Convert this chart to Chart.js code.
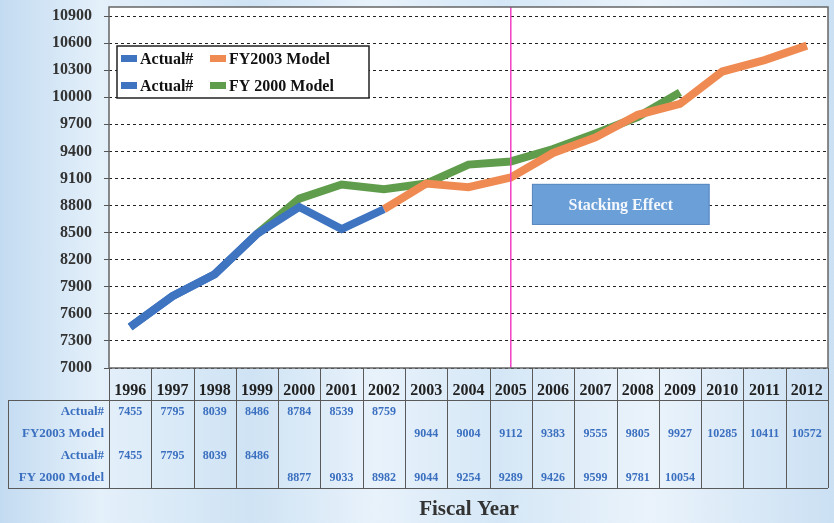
<!DOCTYPE html>
<html>
<head>
<meta charset="utf-8">
<script src="https://cdn.jsdelivr.net/npm/chart.js@4"></script>
<style>
  html, body { margin: 0; padding: 0; }
  body {
    width: 834px; height: 523px; overflow: hidden;
    background: linear-gradient(90deg, #c3dbf1 0%, #e4f0fa 12%, #cfe3f4 30%, #e8f2fb 45%, #d5e7f6 60%, #eaf3fb 78%, #cbe0f3 100%);
  }
  canvas { display: block; }
</style>
</head>
<body>
<canvas id="chart" width="834" height="523"></canvas>
<script>
"use strict";

// Fiscal years (x categories)
const years = ["1996", "1997", "1998", "1999", "2000", "2001", "2002", "2003", "2004",
               "2005", "2006", "2007", "2008", "2009", "2010", "2011", "2012"];

// Series as shown in the data table
const actualA = [7455, 7795, 8039, 8486, 8784, 8539, 8759, null, null, null, null, null, null, null, null, null, null];
const fy2003 = [null, null, null, null, null, null, null, 9044, 9004, 9112, 9383, 9555, 9805, 9927, 10285, 10411, 10572];
const actualB = [7455, 7795, 8039, 8486, null, null, null, null, null, null, null, null, null, null, null, null, null];
const fy2000 = [null, null, null, null, 8877, 9033, 8982, 9044, 9254, 9289, 9426, 9599, 9781, 10054, null, null, null];

const seriesNames = ["Actual#", "FY2003 Model", "Actual#", "FY 2000 Model"];
const seriesColors = ["#3f74c1", "#ef8b52", "#3f74c1", "#5f9d4c"];

// y axis ticks
const yMin = 7000;
const yMax = 10900;
const yStep = 300;

// the model lines start from the last actual point
const fy2003Line = fy2003.slice();
fy2003Line[6] = actualA[6];
const fy2000Line = fy2000.slice();
fy2000Line[3] = actualB[3];

const tableRows = [actualA, fy2003, actualB, fy2000];
const serif = "'Liberation Serif', 'DejaVu Serif', serif";

const extrasPlugin = {
    id: "extras",
    beforeDraw(chart) {
        const ctx = chart.ctx;
        const a = chart.chartArea;
        ctx.save();
        ctx.fillStyle = "#ffffff";
        ctx.fillRect(a.left, a.top, a.right - a.left, a.bottom - a.top);
        ctx.restore();
    },
    afterDatasetsDraw(chart) {
        const ctx = chart.ctx;
        const a = chart.chartArea;
        const x = chart.scales.x;
        const y = chart.scales.y;
        ctx.save();

        // 2005 marker line
        const xm = x.getPixelForValue(9);
        ctx.strokeStyle = "#f23fc4";
        ctx.lineWidth = 1.5;
        ctx.beginPath();
        ctx.moveTo(xm, a.top);
        ctx.lineTo(xm, a.bottom);
        ctx.stroke();

        // Stacking Effect box
        const bx1 = x.getPixelForValue(9.5);
        const bx2 = x.getPixelForValue(13.7);
        const by1 = y.getPixelForValue(9040);
        const by2 = y.getPixelForValue(8585);
        ctx.fillStyle = "#6b9fd8";
        ctx.fillRect(bx1, by1, bx2 - bx1, by2 - by1);
        ctx.strokeStyle = "#5a88bf";
        ctx.lineWidth = 1;
        ctx.strokeRect(bx1 + 0.5, by1 + 0.5, bx2 - bx1 - 1, by2 - by1 - 1);
        ctx.fillStyle = "#f4f8fc";
        ctx.font = "bold 16px " + serif;
        ctx.textAlign = "center";
        ctx.textBaseline = "middle";
        ctx.fillText("Stacking Effect", (bx1 + bx2) / 2, (by1 + by2) / 2 + 1);

        // plot border
        ctx.strokeStyle = "#666666";
        ctx.lineWidth = 1.5;
        ctx.strokeRect(a.left, a.top, a.right - a.left, a.bottom - a.top);

        // legend
        const lx = 117, ly = 46, lw = 252, lh = 52;
        ctx.fillStyle = "#ffffff";
        ctx.fillRect(lx, ly, lw, lh);
        ctx.strokeStyle = "#222222";
        ctx.lineWidth = 1.5;
        ctx.strokeRect(lx, ly, lw, lh);
        ctx.font = "bold 16px " + serif;
        ctx.textAlign = "left";
        ctx.textBaseline = "middle";
        const cols = [121, 210];
        const rowsY = [59, 86];
        chart.data.datasets.forEach((ds, i) => {
            const cx = cols[i % 2];
            const cy = rowsY[Math.floor(i / 2)];
            ctx.fillStyle = ds.borderColor;
            ctx.fillRect(cx, cy - 4, 16, 7);
            ctx.fillStyle = "#111111";
            ctx.fillText(ds.label, cx + 19, cy + 1);
        });
        ctx.restore();
    },
    afterDraw(chart) {
        const ctx = chart.ctx;
        const a = chart.chartArea;
        const x = chart.scales.x;
        ctx.save();

        const tableLeft = 8;
        const headBottom = 400;
        const rowH = 22;
        const tableBottom = headBottom + rowH * 4;

        ctx.strokeStyle = "#5a5a5a";
        ctx.lineWidth = 1;

        // column separators
        const edges = [a.left];
        for (let i = 1; i < years.length; i++) {
            edges.push((x.getPixelForValue(i - 1) + x.getPixelForValue(i)) / 2);
        }
        edges.push(a.right);
        edges.forEach(ex => {
            ctx.beginPath();
            ctx.moveTo(Math.round(ex) + 0.5, a.bottom);
            ctx.lineTo(Math.round(ex) + 0.5, tableBottom);
            ctx.stroke();
        });

        ctx.beginPath();
        ctx.moveTo(tableLeft, headBottom + 0.5);
        ctx.lineTo(a.right, headBottom + 0.5);
        ctx.moveTo(tableLeft, tableBottom + 0.5);
        ctx.lineTo(a.right, tableBottom + 0.5);
        ctx.moveTo(tableLeft + 0.5, headBottom);
        ctx.lineTo(tableLeft + 0.5, tableBottom);
        ctx.stroke();

        // row labels and values
        tableRows.forEach((row, r) => {
            const cy = headBottom + rowH * r + rowH / 2 + 1;
            ctx.fillStyle = "#3b6fbf";
            ctx.font = "bold 13px " + serif;
            ctx.textAlign = "right";
            ctx.textBaseline = "middle";
            ctx.fillText(seriesNames[r], a.left - 5, cy);
            ctx.font = "bold 12px " + serif;
            ctx.textAlign = "center";
            row.forEach((v, i) => {
                if (v === null) return;
                ctx.fillText(String(v), x.getPixelForValue(i), cy);
            });
        });

        // axis title
        ctx.fillStyle = "#333333";
        ctx.font = "bold 21px " + serif;
        ctx.textAlign = "center";
        ctx.textBaseline = "middle";
        ctx.fillText("Fiscal Year", 469, 510);
        ctx.restore();
    }
};

function makeSet(i, values) {
    return {
        label: seriesNames[i],
        data: values,
        borderColor: seriesColors[i],
        backgroundColor: seriesColors[i],
        borderWidth: 8,
        pointRadius: 0,
        pointHoverRadius: 0,
        tension: 0,
        fill: false,
        spanGaps: false
    };
}

new Chart("chart", {
    type: "line",
    data: {
        labels: years,
        datasets: [
            makeSet(0, actualA),
            makeSet(1, fy2003Line),
            makeSet(2, actualB),
            makeSet(3, fy2000Line)
        ]
    },
    options: {
        responsive: false,
        animation: false,
        layout: { padding: { top: 7, right: 6, left: 0, bottom: 0 } },
        plugins: {
            legend: { display: false },
            tooltip: { enabled: false }
        },
        scales: {
            x: {
                offset: true,
                grid: { display: false },
                border: { display: false },
                ticks: {
                    color: "#222222",
                    font: { family: serif, size: 16, weight: "bold" },
                    padding: 5,
                    maxRotation: 0,
                    autoSkip: false
                },
                afterFit: s => {
                    s.height = 523 - 368;
                    s.paddingLeft = 0;
                    s.paddingRight = 0;
                }
            },
            y: {
                min: yMin,
                max: 11000,
                afterBuildTicks: s => {
                    const list = [];
                    for (let v = yMin; v <= yMax; v += yStep) list.push({ value: v });
                    s.ticks = list;
                },
                ticks: {
                    color: "#333333",
                    font: { family: serif, size: 16, weight: "bold" },
                    padding: 12,
                    callback: v => String(v)
                },
                grid: {
                    color: "#222222",
                    lineWidth: 1,
                    tickLength: 5,
                    tickColor: "#555555"
                },
                border: { display: false, dash: [3, 3] },
                afterFit: s => {
                    s.width = 109;
                    s.paddingTop = 0;
                    s.paddingBottom = 0;
                }
            }
        }
    },
    plugins: [extrasPlugin]
});
</script>
</body>
</html>
